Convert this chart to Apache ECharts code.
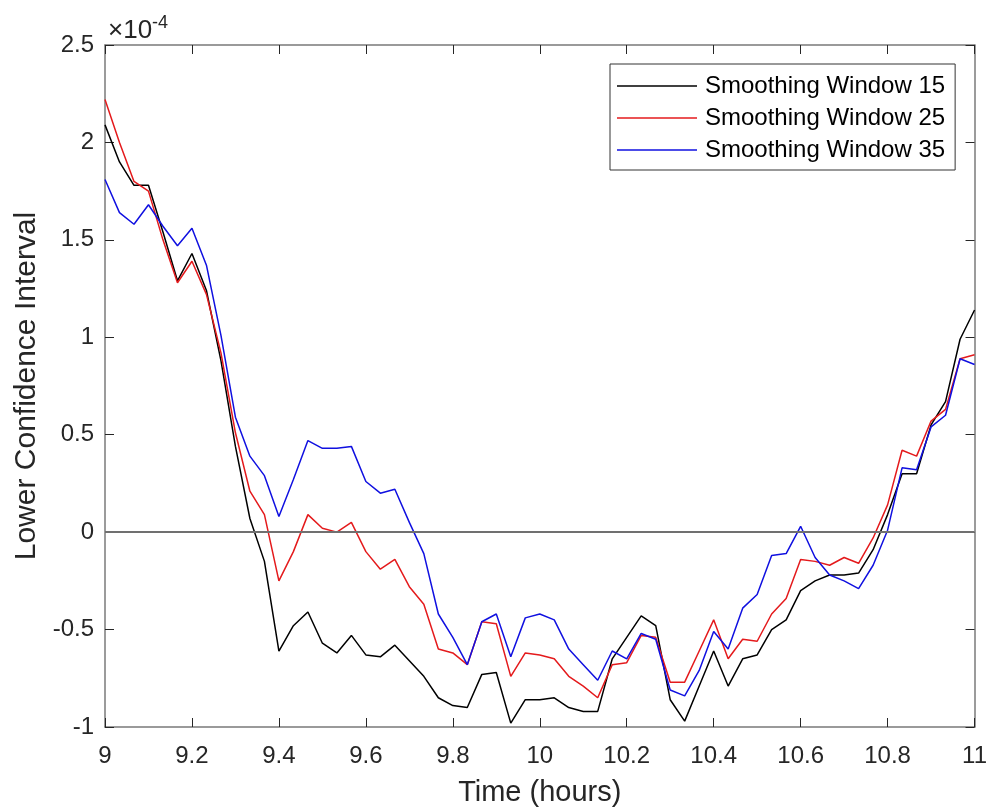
<!DOCTYPE html>
<html>
<head>
<meta charset="utf-8">
<script src="https://cdn.jsdelivr.net/npm/echarts@6/dist/echarts.min.js"></script>
<style>
html,body{margin:0;padding:0;background:#fff;}
#chart{width:990px;height:812px;}
</style>
</head>
<body>
<div id="chart"></div>
<script>
// Time (hours)
var times = [9.0000,9.0333,9.0667,9.1000,9.1333,9.1667,9.2000,9.2333,9.2667,9.3000,
  9.3333,9.3667,9.4000,9.4333,9.4667,9.5000,9.5333,9.5667,9.6000,9.6333,
  9.6667,9.7000,9.7333,9.7667,9.8000,9.8333,9.8667,9.9000,9.9333,9.9667,
  10.0000,10.0333,10.0667,10.1000,10.1333,10.1667,10.2000,10.2333,10.2667,10.3000,
  10.3333,10.3667,10.4000,10.4333,10.4667,10.5000,10.5333,10.5667,10.6000,10.6333,
  10.6667,10.7000,10.7333,10.7667,10.8000,10.8333,10.8667,10.9000,10.9333,10.9667,11.0000];

// Values in units of 1e-4
var window15 = [2.09,1.90,1.78,1.78,1.54,1.29,1.43,1.24,0.88,0.44,
  0.07,-0.15,-0.61,-0.48,-0.41,-0.57,-0.62,-0.53,-0.63,-0.64,
  -0.58,-0.66,-0.74,-0.85,-0.89,-0.90,-0.73,-0.72,-0.98,-0.86,
  -0.86,-0.85,-0.90,-0.92,-0.92,-0.65,-0.54,-0.43,-0.48,-0.86,
  -0.97,-0.79,-0.61,-0.79,-0.65,-0.63,-0.50,-0.45,-0.30,-0.25,
  -0.22,-0.22,-0.21,-0.09,0.09,0.30,0.30,0.55,0.67,0.99,1.14];

var window25 = [2.22,2.00,1.80,1.75,1.50,1.28,1.39,1.22,0.92,0.51,
  0.21,0.09,-0.25,-0.10,0.09,0.02,0.00,0.05,-0.10,-0.19,
  -0.14,-0.28,-0.37,-0.60,-0.62,-0.68,-0.46,-0.47,-0.74,-0.62,
  -0.63,-0.65,-0.74,-0.79,-0.85,-0.68,-0.67,-0.53,-0.54,-0.77,
  -0.77,-0.61,-0.45,-0.65,-0.55,-0.56,-0.42,-0.34,-0.14,-0.15,
  -0.17,-0.13,-0.16,-0.03,0.14,0.42,0.39,0.57,0.63,0.89,0.91];

var window35 = [1.81,1.64,1.58,1.68,1.57,1.47,1.56,1.37,1.01,0.59,
  0.39,0.29,0.08,0.27,0.47,0.43,0.43,0.44,0.26,0.20,
  0.22,0.05,-0.11,-0.42,-0.54,-0.68,-0.46,-0.42,-0.64,-0.44,
  -0.42,-0.45,-0.60,-0.68,-0.76,-0.61,-0.65,-0.52,-0.55,-0.81,
  -0.84,-0.71,-0.51,-0.60,-0.39,-0.32,-0.12,-0.11,0.03,-0.13,
  -0.22,-0.25,-0.29,-0.17,0.01,0.33,0.32,0.54,0.60,0.89,0.86];

var seriesNames = ['Smoothing Window 15','Smoothing Window 25','Smoothing Window 35'];
var seriesColors = ['#000000','#e41a1c','#1010e0'];
var xTitle = 'Time (hours)';
var yTitle = 'Lower Confidence Interval';

function pairs(vals){ return vals.map(function(v,i){ return [times[i], v]; }); }

var FONT = 'Liberation Sans, Arial, sans-serif';
var axisGray = '#7a7a7a';
var tickColor = '#262626';

var chart = echarts.init(document.getElementById('chart'), null, {renderer:'canvas'});

var baseX = {
  type:'value', min:9, max:11, interval:0.2,
  axisLine:{show:true, onZero:false, lineStyle:{color:axisGray, width:1.5}},
  axisTick:{show:true, inside:true, length:9, lineStyle:{color:tickColor, width:1}},
  splitLine:{show:false}
};
var baseY = {
  type:'value', min:-1, max:2.5, interval:0.5,
  axisLine:{show:true, onZero:false, lineStyle:{color:axisGray, width:1.5}},
  axisTick:{show:true, inside:true, length:9, lineStyle:{color:tickColor, width:1}},
  splitLine:{show:false}
};

var option = {
  backgroundColor:'#ffffff',
  animation:false,
  grid:{left:105, right:15, top:45, bottom:81, containLabel:false},
  xAxis:[
    Object.assign({}, baseX, {
      position:'bottom',
      name:xTitle, nameLocation:'middle', nameGap:51,
      nameTextStyle:{fontFamily:FONT, fontSize:29, color:'#262626'},
      axisLabel:{fontFamily:FONT, fontSize:24, color:'#262626', margin:17,
        formatter:function(v){ return String(Math.round(v*10)/10); }}
    }),
    Object.assign({}, baseX, {position:'top', axisLabel:{show:false}})
  ],
  yAxis:[
    Object.assign({}, baseY, {
      position:'left',
      name:yTitle, nameLocation:'middle', nameGap:56, nameRotate:90,
      nameTextStyle:{fontFamily:FONT, fontSize:30, color:'#262626'},
      axisLabel:{fontFamily:FONT, fontSize:24, color:'#262626', margin:11,
        formatter:function(v){ return String(Math.round(v*10)/10); }}
    }),
    Object.assign({}, baseY, {position:'right', axisLabel:{show:false}})
  ],
  legend:{
    orient:'vertical',
    left:610, top:64,
    backgroundColor:'#ffffff',
    borderColor:'#333333', borderWidth:1,
    padding:[10,10,8,7],
    itemGap:8,
    icon:'rect',
    itemWidth:80, itemHeight:1.6,
    textStyle:{fontFamily:FONT, fontSize:24, color:'#000', lineHeight:24, padding:[0,0,0,3]},
    data:seriesNames
  },
  graphic:[{
    type:'text', left:108, top:14,
    style:{
      text:'{a|×10}{b|-4}',
      rich:{
        a:{fontFamily:FONT, fontSize:26, fill:'#262626', verticalAlign:'bottom'},
        b:{fontFamily:FONT, fontSize:18, fill:'#262626', verticalAlign:'top', padding:[0,0,12,0]}
      }
    }
  }],
  series:[0,1,2].map(function(i){
    var s = {
      type:'line', name:seriesNames[i],
      data:pairs([window15,window25,window35][i]),
      symbol:'none', showSymbol:false,
      lineStyle:{color:seriesColors[i], width:1.5},
      itemStyle:{color:seriesColors[i]},
      z:3
    };
    if(i===0){
      s.markLine = {
        silent:true, symbol:'none', label:{show:false},
        lineStyle:{color:'#707070', width:2, type:'solid'},
        data:[{yAxis:0}]
      };
    }
    return s;
  })
};
chart.setOption(option);
</script>
</body>
</html>
